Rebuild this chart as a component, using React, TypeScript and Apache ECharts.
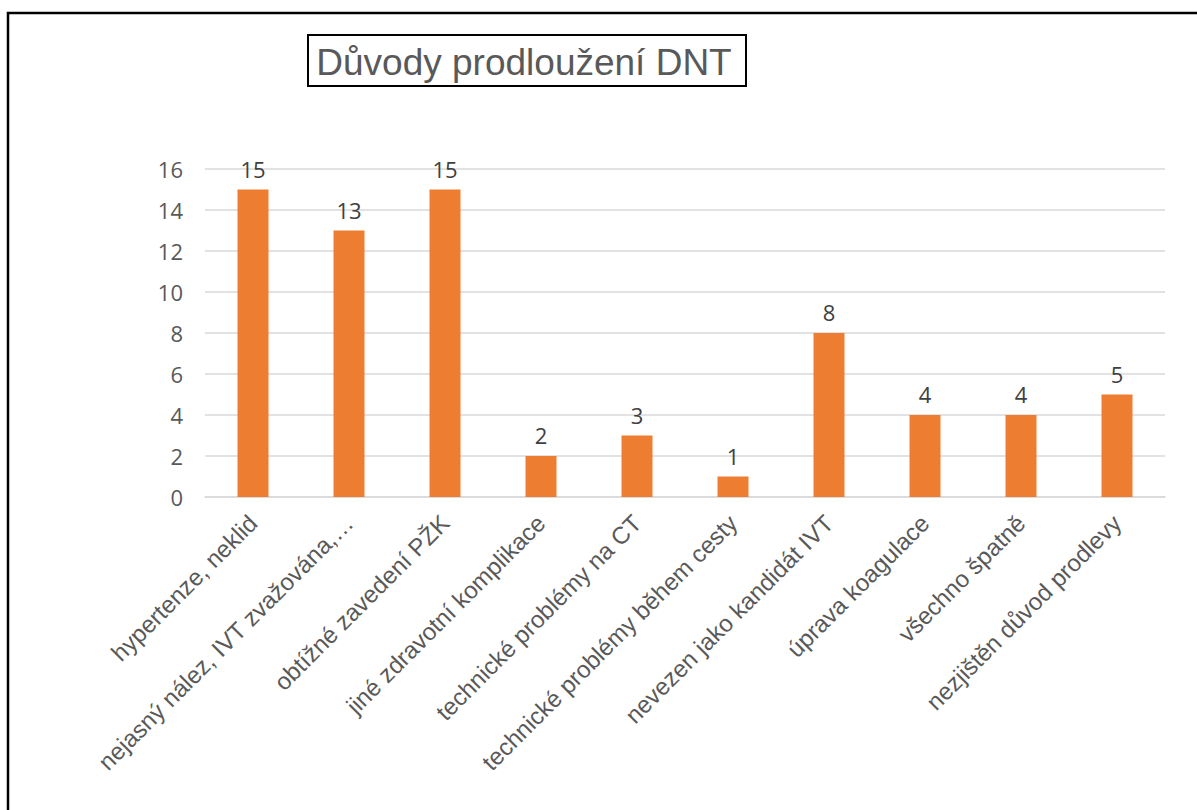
import React, { useEffect, useRef } from "react";
import * as echarts from "echarts";

const titleText = "Důvody prodloužení DNT";
const categories = [
  "hypertenze, neklid",
  "nejasný nález, IVT zvažována,…",
  "obtížné zavedení PŽK",
  "jiné zdravotní komplikace",
  "technické problémy na CT",
  "technické problémy během cesty",
  "nevezen jako kandidát IVT",
  "úprava koagulace",
  "všechno špatně",
  "nezjištěn důvod prodlevy",
];
const values = [15, 13, 15, 2, 3, 1, 8, 4, 4, 5];
const yMin = 0;
const yMax = 16;
const yStep = 2;

export default function App() {
  const ref = useRef<HTMLDivElement>(null);
  useEffect(() => {
    if (!ref.current) return;
    const chart = echarts.init(ref.current, null, { renderer: "svg" });
    chart.setOption({
      animation: false,
      backgroundColor: "#ffffff",
      graphic: [
        {
          type: "rect",
          shape: { x: 8, y: 13, width: 1200, height: 810 },
          style: { fill: "none", stroke: "#000000", lineWidth: 2.5 },
          silent: true,
        },
        {
          type: "rect",
          shape: { x: 308, y: 35, width: 438, height: 51 },
          style: { fill: "#ffffff", stroke: "#000000", lineWidth: 2 },
          silent: true,
        },
        {
          type: "text",
          x: 524,
          y: 62,
          style: {
            text: titleText,
            fill: "#595959",
            font: "37px 'Liberation Sans', Arial, sans-serif",
            align: "center",
            verticalAlign: "middle",
          },
          silent: true,
        },
      ],
      grid: { left: 205, right: 32, top: 169, bottom: 313 },
      xAxis: {
        type: "category",
        data: categories,
        axisLine: { show: true, lineStyle: { color: "#D9D9D9", width: 1.5 } },
        axisTick: { show: false },
        axisLabel: {
          interval: 0,
          rotate: 45,
          color: "#595959",
          fontSize: 24,
          fontFamily: "'Liberation Sans', Arial, sans-serif",
          margin: 22,
        },
      },
      yAxis: {
        type: "value",
        min: yMin,
        max: yMax,
        interval: yStep,
        axisLine: { show: false },
        axisTick: { show: false },
        splitLine: { lineStyle: { color: "#D9D9D9", width: 1.5 } },
        axisLabel: {
          color: "#595959",
          fontSize: 22,
          fontFamily: "'Open Sans', sans-serif",
          margin: 22,
        },
      },
      series: [
        {
          type: "bar",
          data: values,
          barWidth: 31,
          itemStyle: { color: "#ED7D31" },
          label: {
            show: true,
            position: "top",
            distance: 10,
            color: "#404040",
            fontSize: 22,
            fontFamily: "'Open Sans', sans-serif",
          },
        },
      ],
    });
    return () => chart.dispose();
  }, []);
  return (
    <div
      ref={ref}
      style={{ position: "fixed", left: 0, top: 0, width: 1197, height: 810 }}
    />
  );
}
